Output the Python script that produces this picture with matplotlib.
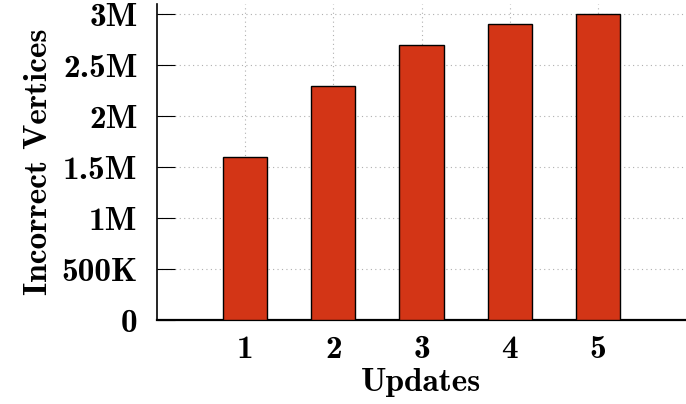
import matplotlib
matplotlib.use("Agg")
import matplotlib.pyplot as plt
from matplotlib.ticker import FixedLocator, FixedFormatter

plt.rcParams['font.family'] = ['cmb10', 'DejaVu Serif']
plt.rcParams['axes.unicode_minus'] = False

updates = [1, 2, 3, 4, 5]
incorrect_vertices = [1.6e6, 2.3e6, 2.7e6, 2.9e6, 3.0e6]
ytick_values = [0, 0.5e6, 1.0e6, 1.5e6, 2.0e6, 2.5e6, 3.0e6]
ytick_labels = ['0', '500K', '1M', '1.5M', '2M', '2.5M', '3M']
xtick_labels = ['1', '2', '3', '4', '5']

FS = 24

fig = plt.figure(figsize=(6.86, 4.04), dpi=100)
ax = fig.add_axes([157/686, 84/404, 1 - 157/686, 316/404])

ax.bar(updates, incorrect_vertices, width=0.5, color='#D33516',
       edgecolor='black', linewidth=1.0, zorder=3)

ax.set_xlim(0, 6)
ax.set_ylim(0, 3.1e6)
ax.yaxis.set_major_locator(FixedLocator(ytick_values))
ax.yaxis.set_major_formatter(FixedFormatter(ytick_labels))
ax.set_xticks(updates)
ax.set_xticklabels(xtick_labels)

ax.grid(True, linestyle=(0, (1, 3)), color='#b0b0b0', linewidth=0.8, zorder=0)
ax.set_axisbelow(True)

for s in ['top', 'right']:
    ax.spines[s].set_visible(False)
ax.spines['left'].set_linewidth(1.2)
ax.spines['bottom'].set_linewidth(1.6)

ax.tick_params(axis='y', direction='in', length=13, width=0.8, pad=14, labelsize=FS)
ax.tick_params(axis='x', length=0, pad=11, labelsize=FS)

ax.set_xlabel('Updates', fontsize=FS, labelpad=3)
ax.set_ylabel('Incorrect Vertices', fontsize=FS, labelpad=6)

fig.savefig('out.png', dpi=100)
